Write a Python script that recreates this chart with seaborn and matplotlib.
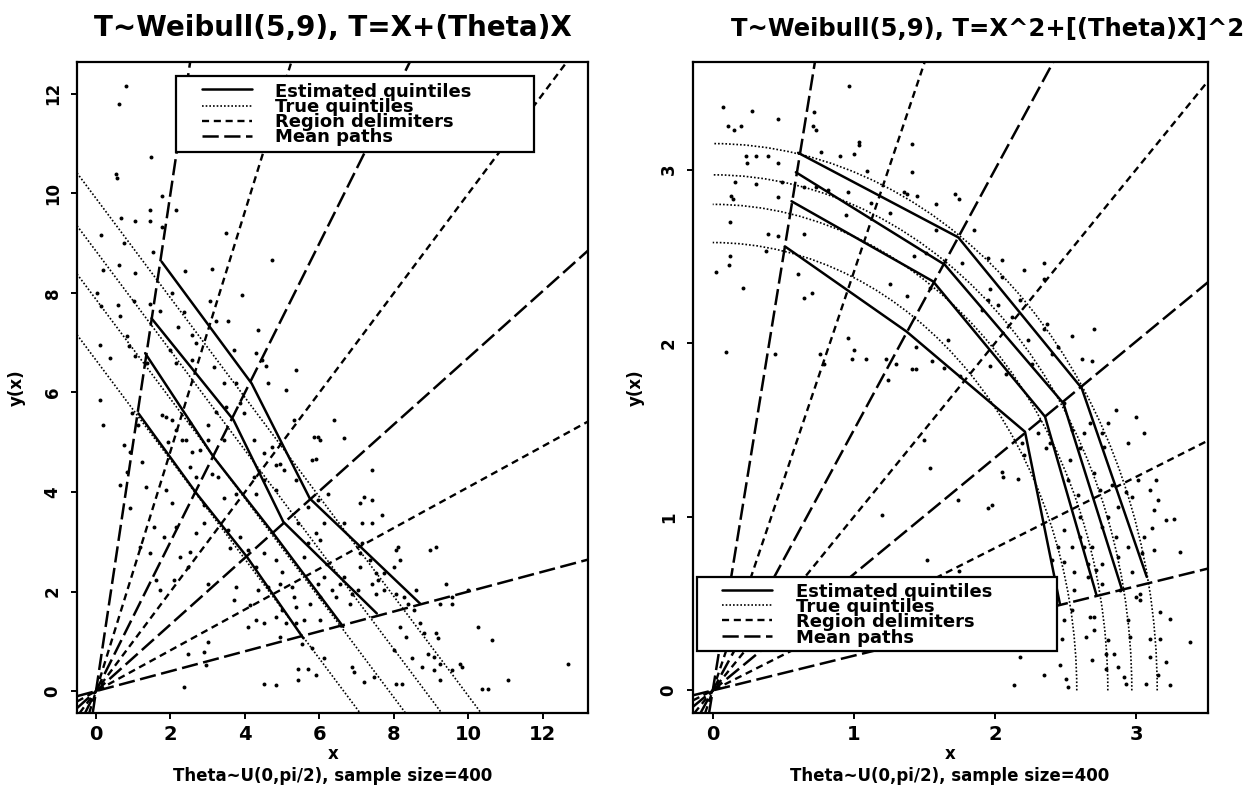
import matplotlib
matplotlib.use("Agg")
import matplotlib.pyplot as plt
import seaborn as sns
import pandas as pd
from matplotlib.patches import Arc, Rectangle
from matplotlib.lines import Line2D

sns.set_style("ticks")
plt.rcParams['font.family'] = ['DejaVu Sans']
plt.rcParams['font.weight'] = 'bold'
plt.rcParams['text.color'] = 'black'
plt.rcParams['axes.labelcolor'] = 'black'
plt.rcParams['xtick.color'] = 'black'
plt.rcParams['ytick.color'] = 'black'
plt.rcParams['axes.edgecolor'] = 'black'

# ---------------- data ----------------
titles = ["T~Weibull(5,9), T=X+(Theta)X", "T~Weibull(5,9), T=X^2+[(Theta)X]^2"]
subtitle = "Theta~U(0,pi/2), sample size=400"
legend_labels = ["Estimated quintiles", "True quintiles", "Region delimiters", "Mean paths"]

mean_path_slopes = [0.20, 0.67, 1.50, 5.0]
delimiter_slopes = [0.41, 1.0, 2.41]

left_xticks = [0, 2, 4, 6, 8, 10, 12]
left_yticks = [0, 2, 4, 6, 8, 10, 12]
right_xticks = [0, 1, 2, 3]
right_yticks = [0, 1, 2, 3]

# left panel: true quintiles are lines x + y = c
left_true_c = [6.65, 7.87, 8.84, 9.90]
# right panel: true quintiles are quarter circles of radius r
right_true_r = [2.58, 2.80, 2.97, 3.15]

left_est_x = [[1.14, 2.70, 4.05, 5.57],
              [1.32, 3.15, 4.76, 6.64],
              [1.49, 3.69, 5.03, 7.54],
              [1.76, 4.18, 5.74, 8.70]]
left_est_y = [[5.58, 3.97, 2.70, 1.06],
              [6.79, 4.71, 3.17, 1.29],
              [7.49, 5.45, 3.40, 1.56],
              [8.63, 6.18, 3.87, 1.76]]

right_est_x = [[0.511, 1.374, 2.213, 2.46],
               [0.558, 1.562, 2.355, 2.72],
               [0.589, 1.645, 2.485, 2.898],
               [0.605, 1.74, 2.615, 3.076]]
right_est_y = [[2.558, 2.067, 1.49, 0.50],
               [2.818, 2.356, 1.577, 0.548],
               [2.985, 2.452, 1.654, 0.587],
               [3.097, 2.61, 1.741, 0.654]]

left_pts_x = [0.81, 0.62, 1.48, 0.55, 0.57, 1.77, 1.45, 2.15, 1.45, 1.77, 0.66, 1.04, 3.49, 0.13, 4.72, 0.75,
              0.19, 0.61, 1.04, 1.52, 2.38, 3.11, 2.04, 3.92, 0.02, 0.13, 0.6, 0.65, 1.02, 1.45, 1.72, 2.36,
              2.2, 3.06, 3.22, 3.54, 2.58, 4.35, 0.84, 0.88, 0.11, 0.38, 1.04, 1.36, 1.98, 2.15, 2.58, 2.69,
              3.17, 3.7, 4.29, 4.45, 4.56, 4.62, 5.1, 5.37, 3.43, 3.76,
              0.11, 0.19, 0.97, 1.13, 0.75, 0.91, 0.84, 0.64, 0.91, 1.34, 1.23, 1.77, 1.88, 2.04, 2.15, 2.52,
              1.93, 2.31, 2.42, 2.58, 1.88, 2.04, 2.15, 1.83, 1.56, 1.18, 1.45, 1.61, 1.72, 2.09, 2.25, 2.52,
              2.47, 2.68, 2.9, 2.9, 3.44, 3.76, 3.11, 3.28, 2.79, 3.01, 3.44, 3.49, 3.87, 3.97, 3.22, 3.01,
              2.52, 2.68, 4.24, 4.51, 4.72, 4.83, 5.05, 4.24, 4.51, 4.29, 4.83, 3.54, 3.87, 4.08, 3.6, 4.29,
              4.51, 4.83, 4.99, 4.35, 4.62, 4.94, 3.01, 3.76, 3.7, 4.13, 4.08, 4.29, 4.51, 4.83, 5.1, 4.94,
              2.9, 3.01, 2.95, 2.47, 2.36, 4.51, 4.83, 5.42, 5.42, 5.69, 5.9, 5.53, 5.8, 6.12, 5.37, 5.58,
              5.37, 5.74, 6.01, 5.26, 5.31, 4.99, 5.58, 5.69, 6.01, 5.9, 6.12, 5.42, 5.69, 5.96, 6.23, 5.37,
              5.8, 5.9, 6.01, 5.85, 5.96, 4.94, 5.31, 6.66, 6.39, 6.55, 6.66, 6.87, 6.82, 7.03, 7.41, 7.52,
              7.73, 8.06, 7.52, 7.57, 7.73, 7.09, 7.36, 7.09, 7.14, 6.66, 7.14, 7.41, 7.41, 7.2, 7.68, 8.11,
              8.06, 8.16, 8.0, 8.6, 8.27, 8.38, 8.54, 8.7, 8.81, 9.13, 9.18, 8.92, 9.08, 9.24, 9.13, 9.4,
              9.24, 9.56, 9.56, 8.16, 8.32, 8.0, 8.48, 8.75, 8.06, 8.22, 6.87, 7.46, 6.93, 7.2, 9.83, 9.08,
              9.24, 10.25, 10.63, 10.36, 10.52, 11.06, 12.67, 9.77, 9.56, 8.97, 9.99, 7.09, 7.41, 5.96, 6.12,
              6.33, 6.44, 6.01]
left_pts_y = [12.16, 11.8, 10.73, 10.39, 10.3, 9.94, 9.67, 9.67, 9.44, 9.33, 9.5, 9.45, 9.2, 9.17, 8.66, 9.0,
              8.46, 8.56, 8.4, 8.83, 8.45, 8.49, 7.99, 7.96, 7.99, 7.73, 7.76, 7.54, 7.84, 7.77, 7.64, 7.61,
              7.31, 7.84, 7.44, 7.44, 7.16, 7.26, 7.13, 6.93, 6.96, 6.69, 6.73, 6.59, 6.86, 6.59, 6.66, 6.99,
              6.51, 6.86, 6.79, 6.66, 6.53, 6.2, 6.05, 6.45, 6.19, 6.19,
              5.85, 5.35, 5.58, 5.35, 4.94, 4.81, 4.41, 4.14, 3.67, 4.1, 4.61, 5.55, 5.51, 5.45, 5.25, 5.38,
              5.01, 5.04, 5.04, 4.81, 4.04, 3.77, 3.3, 3.1, 3.3, 2.9, 2.77, 2.23, 2.03, 2.23, 2.7, 2.8,
              2.5, 3.18, 3.37, 3.74, 3.87, 3.97, 4.37, 4.31, 4.84, 5.04, 5.04, 5.71, 5.78, 5.58, 5.61, 5.35,
              4.5, 4.31, 5.04, 4.78, 4.91, 4.54, 4.44, 4.31, 4.24, 3.97, 4.04, 3.23, 3.1, 2.83, 2.87, 2.5,
              2.77, 2.63, 2.4, 2.03, 2.1, 2.16, 2.16, 2.1, 1.83, 1.73, 1.29, 1.42, 1.36, 1.49, 1.36, 1.09,
              0.79, 0.99, 0.53, 0.74, 0.08, 0.15, 0.12, 0.45, 0.22, 0.45, 0.32, 0.94, 0.87, 0.67, 1.36, 1.42,
              1.69, 1.75, 1.89, 2.1, 1.89, 1.62, 2.7, 2.97, 3.03, 3.17, 3.37, 3.37, 3.7, 3.84, 3.97, 4.24,
              4.64, 4.67, 5.04, 5.11, 5.11, 4.57, 5.45, 5.08, 5.45, 2.16, 2.3, 1.96, 1.75, 2.03, 2.16, 1.96,
              2.03, 1.96, 2.37, 2.23, 2.37, 2.5, 2.63, 2.77, 2.97, 3.37, 3.37, 3.37, 4.44, 3.9, 3.53, 2.9,
              2.83, 2.63, 2.5, 2.03, 1.89, 1.75, 1.62, 1.36, 1.16, 1.16, 1.06, 0.75, 0.69, 0.55, 2.9, 2.16,
              1.75, 1.89, 1.75, 1.29, 1.09, 0.82, 0.66, 0.49, 0.15, 0.15, 0.49, 0.28, 0.39, 0.18, 0.49, 0.42,
              0.22, 1.29, 1.02, 0.05, 0.05, 0.22, 0.55, 0.55, 0.42, 2.83, 2.03, 3.77, 3.84, 2.16, 2.3,
              2.03, 1.89, 1.42]

right_pts_x = [0.072, 0.277, 0.461, 0.106, 0.149, 0.2, 0.966, 0.716, 0.708, 0.73, 1.037, 1.037, 1.411, 1.411,
               0.767, 0.9, 1.0, 1.094, 0.234, 0.24, 0.305, 0.39, 0.461, 0.305, 0.157, 0.489, 0.129, 0.14,
               0.461, 0.645, 0.73, 0.816, 0.957, 0.943, 1.122, 1.255, 1.355, 1.376, 1.445, 1.582, 1.72, 1.745,
               0.12, 0.39, 0.461, 0.376, 0.645, 0.12, 0.112, 0.021, 0.211, 0.603, 0.702, 0.645, 0.441, 0.092,
               0.957, 1.0, 1.085, 1.255, 1.374, 1.511, 1.582, 1.426, 1.539, 1.44, 1.227, 1.411, 1.851, 1.766,
               1.95, 2.05, 2.206, 2.348, 2.348, 2.05, 1.908, 1.95, 2.02, 1.965, 2.12, 2.177, 2.348, 2.37,
               2.546, 2.702, 2.617, 2.688, 2.234, 2.262, 2.404, 2.447, 1.667, 1.638, 1.752, 1.965, 2.078, 1.241,
               1.298, 1.44, 1.553, 0.759, 0.787, 0.986,
               1.496, 1.539, 1.738, 1.199, 1.518, 1.745, 1.95, 1.979, 2.05, 2.06, 2.163, 2.191, 2.206, 2.305,
               2.362, 2.39, 2.489, 2.546, 2.631, 2.674, 2.603, 2.532, 2.773, 2.759, 2.801, 2.858, 3.0, 3.057,
               2.943, 2.518, 2.589, 2.702, 2.745, 2.83, 2.929, 2.972, 3.014, 3.142, 3.099, 3.156, 3.128, 3.213,
               3.27, 3.312, 3.113, 3.128, 3.057, 3.043, 2.972, 2.872, 2.943, 2.688, 2.759, 2.716, 2.66, 2.631,
               2.489, 2.447, 2.404, 2.489, 2.546, 2.56, 2.603, 2.603, 2.801, 2.858, 2.759, 2.872, 3.0, 3.028,
               3.17, 3.241, 3.099, 3.17, 3.099, 3.213, 3.383, 2.674, 2.702, 2.801, 2.787, 2.688, 2.787, 2.872,
               2.915, 2.943, 2.957, 2.489, 2.475, 2.461, 2.504, 2.518, 2.348, 2.135, 2.262, 2.177, 2.645, 2.702,
               2.66, 2.759, 2.887, 3.028, 3.071, 3.241, 3.156, 2.844, 2.929, 2.56, 2.546]
right_pts_y = [3.36, 3.34, 3.29, 3.25, 3.23, 3.25, 3.48, 3.33, 3.25, 3.23, 3.16, 3.14, 3.15, 2.985,
               3.1, 3.08, 3.09, 2.99, 3.08, 3.04, 3.08, 3.08, 3.04, 2.92, 2.93, 2.93, 2.85, 2.83,
               2.84, 2.9, 2.9, 2.88, 2.87, 2.74, 2.81, 2.75, 2.87, 2.86, 2.85, 2.8, 2.86, 2.83,
               2.7, 2.63, 2.62, 2.53, 2.63, 2.5, 2.45, 2.41, 2.32, 2.4, 2.29, 2.26, 1.94, 1.95,
               2.03, 1.96, 1.91, 2.34, 2.27, 2.52, 2.65, 2.5, 2.32, 1.98, 1.91, 1.85, 2.65, 2.46,
               2.49, 2.48, 2.42, 2.46, 2.37, 2.38, 2.19, 2.25, 2.22, 2.31, 2.15, 2.25, 2.08, 2.11,
               2.04, 2.08, 1.91, 1.9, 2.02, 1.88, 1.94, 1.98, 2.02, 1.86, 1.81, 1.87, 1.82, 1.79,
               1.88, 1.85, 1.9, 1.94, 1.88, 1.91,
               1.443, 1.279, 1.096, 1.01, 0.75, 0.69, 1.048, 1.067, 1.26, 1.23, 1.216, 1.423, 1.356, 1.481,
               1.394, 1.423, 1.654, 1.5, 1.481, 1.539, 1.394, 1.327, 1.404, 1.481, 1.539, 1.616, 1.577, 1.481,
               1.423, 1.212, 1.125, 1.25, 1.154, 1.183, 1.144, 1.116, 1.212, 1.212, 1.154, 1.096, 1.039, 0.981,
               0.99, 0.798, 0.933, 0.808, 0.885, 0.789, 0.683, 0.769, 0.827, 0.827, 0.731, 0.693, 0.731, 0.827,
               0.923, 0.827, 0.75, 0.74, 0.827, 0.683, 1.0, 0.885, 1.0, 0.885, 0.943, 1.058, 0.538, 0.519,
               0.452, 0.413, 0.298, 0.298, 0.192, 0.163, 0.279, 0.423, 0.423, 0.288, 0.212, 0.173, 0.125, 0.135,
               0.077, 0.404, 0.308, 0.404, 0.298, 0.144, 0.067, 0.019, 0.087, 0.029, 0.24, 0.192, 0.308, 0.346,
               0.654, 0.615, 0.577, 0.558, 0.038, 0.029, 0.087, 0.212, 0.038, 0.577, 0.462]

# ---------------- styles ----------------
W, H = 1256, 789
EST = dict(color="black", lw=1.8, ls="-")
TRUE = dict(color="black", lw=1.2, ls=(0, (1, 1.2)))
DELIM = dict(color="black", lw=1.7, ls=(0, (3, 2)))
MEAN = dict(color="black", lw=1.8, ls=(0, (6.5, 2.2)))
leg_styles = [EST, TRUE, DELIM, MEAN]


def fx(px):
    return px / W


def fy(py):
    return 1 - py / H


fig = plt.figure(figsize=(W / 100, H / 100), dpi=100)
axL = fig.add_axes([fx(77), fy(713), (588 - 77) / W, (713 - 62) / H])
axR = fig.add_axes([fx(693), fy(713), (1208 - 693) / W, (713 - 62) / H])

for ax in (axL, axR):
    for s in mean_path_slopes:
        ax.axline((0, 0), slope=s, zorder=2, **MEAN)
    for s in delimiter_slopes:
        ax.axline((0, 0), slope=s, zorder=2, **DELIM)

# left panel
sns.scatterplot(x=left_pts_x, y=left_pts_y, ax=axL, s=8, color="black", linewidth=0, zorder=3)
for c in left_true_c:
    axL.axline((c, 0), slope=-1, zorder=2, **TRUE)
for xs, ys in zip(left_est_x, left_est_y):
    sns.lineplot(x=xs, y=ys, ax=axL, sort=False, estimator=None, zorder=4, **EST)

# right panel
sns.scatterplot(x=right_pts_x, y=right_pts_y, ax=axR, s=8, color="black", linewidth=0, zorder=3)
for r in right_true_r:
    axR.add_patch(Arc((0, 0), 2 * r, 2 * r, theta1=0, theta2=90, zorder=2, **TRUE))
for xs, ys in zip(right_est_x, right_est_y):
    sns.lineplot(x=xs, y=ys, ax=axR, sort=False, estimator=None, zorder=4, **EST)

axL.set_xlim(-0.51, 13.21)
axL.set_ylim(-0.44, 12.64)
axR.set_xlim(-0.14, 3.51)
axR.set_ylim(-0.13, 3.62)
axL.set_xticks(left_xticks)
axL.set_yticks(left_yticks)
axR.set_xticks(right_xticks)
axR.set_yticks(right_yticks)

for ax in (axL, axR):
    ax.set_xlabel("")
    ax.set_ylabel("")
    for sp in ax.spines.values():
        sp.set_visible(True)
        sp.set_linewidth(1.6)
        sp.set_color("black")
    ax.tick_params(axis="both", direction="out", length=4, width=1.4, color="black", labelcolor="black")
    ax.tick_params(axis="x", labelsize=14, pad=5)
    ax.tick_params(axis="y", labelsize=12, pad=7)
    for lab in ax.get_yticklabels():
        lab.set_rotation(90)
        lab.set_va("center")
    for lab in ax.get_xticklabels() + ax.get_yticklabels():
        lab.set_fontweight("bold")

# titles and labels
fig.text(fx(333), fy(36), titles[0], ha="center", va="baseline", fontsize=20, fontweight="bold", color="black")
fig.text(fx(988), fy(36), titles[1], ha="center", va="baseline", fontsize=17.5, fontweight="bold", color="black")
for cx, ylx in ((333, 17), (950, 636)):
    fig.text(fx(cx), fy(759), "x", ha="center", va="baseline", fontsize=12, fontweight="bold", color="black")
    fig.text(fx(cx), fy(781), subtitle, ha="center", va="baseline", fontsize=12, fontweight="bold", color="black")
    fig.text(fx(ylx), fy(388), "y(x)", ha="center", va="center", rotation=90, fontsize=12,
             fontweight="bold", color="black")


def draw_legend(box, sample_x, text_x, rows, baselines):
    x0, y0, x1, y1 = box
    fig.add_artist(Rectangle((fx(x0), fy(y1)), fx(x1) - fx(x0), fy(y0) - fy(y1),
                             transform=fig.transFigure, facecolor="white", edgecolor="black",
                             lw=1.6, zorder=10))
    for lab, sty, ry, bl in zip(legend_labels, leg_styles, rows, baselines):
        fig.add_artist(Line2D([fx(sample_x[0]), fx(sample_x[1])], [fy(ry), fy(ry)],
                              transform=fig.transFigure, zorder=11, **sty))
        fig.text(fx(text_x), fy(bl), lab, ha="left", va="baseline", fontsize=13,
                 fontweight="bold", color="black", zorder=12)


draw_legend((176, 76, 534, 152), (202, 252), 275, [89, 106, 121, 136], [97, 112, 127, 142])
draw_legend((697, 577, 1057, 651), (722, 772), 796, [590, 605, 620, 636], [597, 612, 627, 643])

fig.savefig("out.png", dpi=100)
